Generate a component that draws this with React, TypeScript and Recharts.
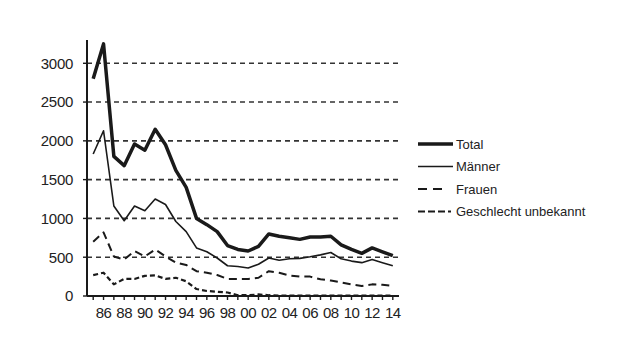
import React from 'react';
import { LineChart, Line, XAxis, YAxis, CartesianGrid } from 'recharts';

const years = [
  1985, 1986, 1987, 1988, 1989, 1990, 1991, 1992, 1993, 1994,
  1995, 1996, 1997, 1998, 1999, 2000, 2001, 2002, 2003, 2004,
  2005, 2006, 2007, 2008, 2009, 2010, 2011, 2012, 2013, 2014
];
const total = [
  2800, 3250, 1800, 1680, 1960, 1880, 2150, 1950, 1620, 1400,
  1000, 920, 830, 650, 600, 580, 640, 800, 770, 750,
  730, 760, 760, 770, 660, 600, 550, 620, 570, 520
];
const maenner = [
  1830, 2130, 1160, 970, 1160, 1100, 1250, 1180, 960, 830,
  620, 570, 490, 390, 380, 360, 410, 490, 460, 480,
  485, 505, 530, 560, 480, 450, 430, 470, 430, 390
];
const frauen = [
  700, 820, 510, 470, 580, 510, 600, 510, 430, 400,
  320, 300, 270, 220, 220, 220, 235, 320, 300, 265,
  250, 250, 215, 200, 175, 150, 130, 150, 145, 130
];
const unbekannt = [
  270, 300, 150, 220, 220, 260, 265, 220, 235, 190,
  90, 65, 55, 45, 10, 10, 20, 10, 5, 5,
  5, 5, 5, 5, 5, 5, 5, 5, 5, 5
];
const yTicks = [0, 500, 1000, 1500, 2000, 2500, 3000];
const gridValues = [500, 1000, 1500, 2000, 2500, 3000];

const series = [
  { key: 'total', name: 'Total', width: 3.5, dash: undefined, legendDash: undefined, legendEnd: 453 },
  { key: 'maenner', name: 'Männer', width: 1.6, dash: undefined, legendDash: undefined, legendEnd: 453 },
  { key: 'frauen', name: 'Frauen', width: 2, dash: '8 5', legendDash: '9 6', legendEnd: 446 },
  { key: 'unbekannt', name: 'Geschlecht unbekannt', width: 2.2, dash: '5 3', legendDash: '7 3', legendEnd: 451 }
];

const data = years.map((year, i) => ({
  year,
  total: total[i],
  maenner: maenner[i],
  frauen: frauen[i],
  unbekannt: unbekannt[i]
}));

const font = '"Liberation Sans", Arial, Helvetica, sans-serif';
const ink = '#1a1a1a';

export default function App() {
  return (
    <div style={{ position: 'absolute', left: 0, top: 0, width: 640, height: 360, background: '#fff' }}>
      <LineChart
        width={640}
        height={360}
        data={data}
        margin={{ top: 40, right: 241, bottom: 34, left: 0 }}
        style={{ fontFamily: font }}
      >
        <CartesianGrid
          vertical={false}
          horizontalValues={gridValues}
          stroke="#333"
          strokeWidth={1.6}
          strokeDasharray="5 4"
        />
        <XAxis
          dataKey="year"
          type="number"
          domain={[1984.4, 2014.6]}
          ticks={years}
          interval={0}
          height={30}
          tickSize={4}
          tickMargin={7}
          tickFormatter={(v: number) => (v % 2 === 0 ? String(v).slice(2) : '')}
          axisLine={{ stroke: ink, strokeWidth: 2 }}
          tickLine={{ stroke: ink, strokeWidth: 1.4 }}
          tick={{ fill: '#222', fontSize: 15, letterSpacing: -0.5 }}
        />
        <YAxis
          type="number"
          domain={[0, 3300]}
          ticks={yTicks}
          width={87}
          tickSize={4}
          tickMargin={10}
          axisLine={{ stroke: ink, strokeWidth: 2 }}
          tickLine={{ stroke: ink, strokeWidth: 1.4 }}
          tick={{ fill: '#222', fontSize: 15, letterSpacing: -0.3 }}
        />
        {series.map((s) => (
          <Line
            key={s.key}
            dataKey={s.key}
            name={s.name}
            type="linear"
            stroke={ink}
            strokeWidth={s.width}
            strokeDasharray={s.dash}
            strokeLinejoin="round"
            dot={false}
            activeDot={false}
            isAnimationActive={false}
          />
        ))}
      </LineChart>
      <svg
        width={640}
        height={360}
        style={{ position: 'absolute', left: 0, top: 0, pointerEvents: 'none' }}
      >
        {series.map((s, i) => {
          const y = 144 + i * 22.5;
          return (
            <g key={s.key}>
              <line
                x1={418}
                x2={s.legendEnd}
                y1={y}
                y2={y}
                stroke={ink}
                strokeWidth={s.width}
                strokeDasharray={s.legendDash}
              />
              <text
                x={456}
                y={y}
                dy="0.35em"
                fontSize={13}
                fill="#222"
                fontFamily={font}
              >
                {s.name}
              </text>
            </g>
          );
        })}
      </svg>
    </div>
  );
}
